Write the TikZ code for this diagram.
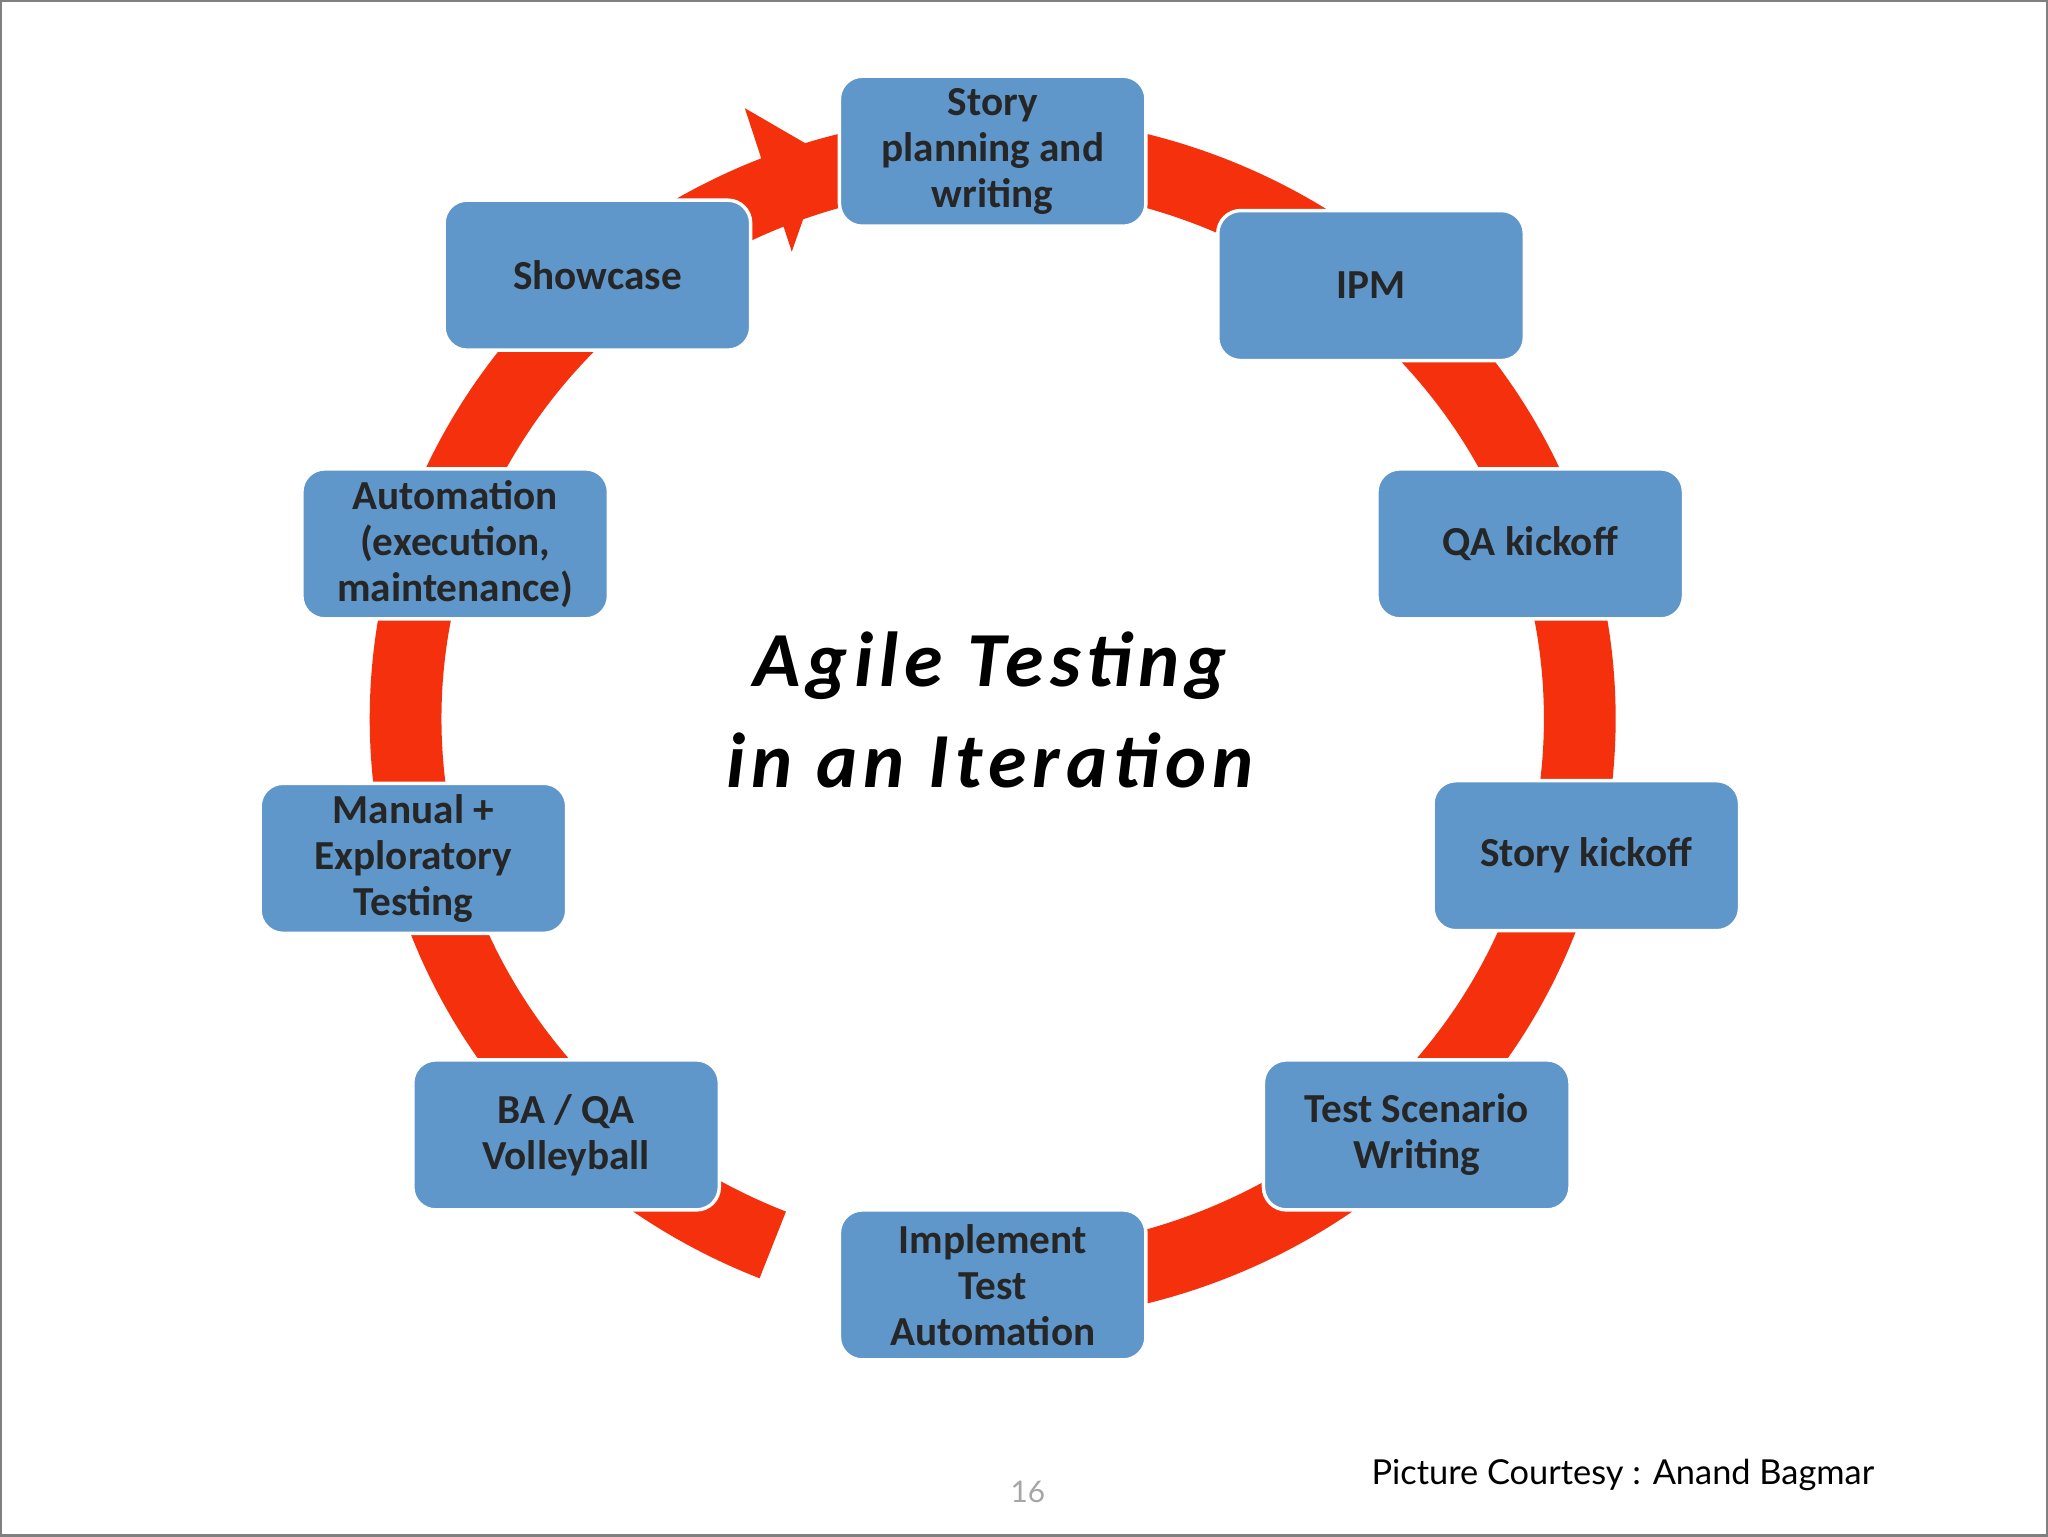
\documentclass[tikz,border=0pt]{standalone}
\usepackage{fontspec}
\setmainfont{Carlito}
\newfontfamily\foot{Lato}
\definecolor{boxblue}{HTML}{5F97CB}
\definecolor{ringred}{HTML}{F5300C}
\begin{document}
\begin{tikzpicture}[x=0.02cm,y=-0.02cm,
  box/.style={draw=white,line width=1.5pt,fill=boxblue,rounded corners=10pt,minimum width=4.7cm,minimum height=2.3cm,align=center,font=\bfseries\fontsize{18}{20}\selectfont,text=black!85}]
\draw[gray,line width=1pt,fill=white] (0,0) rectangle (1568,1176);
\draw[ringred,line width=1.1cm] (760,550) ++(90:450 and 435) arc[start angle=90,end angle=-248,x radius=450,y radius=435];
\fill[ringred] (570,82) -- (632,118) -- (606,192) -- cycle;
\node[box] (s) at (760,115) {Story\\planning and\\writing};
\node[box] (ipm) at (1050,218) {IPM};
\node[box] (qa) at (1172,416) {QA kickoff};
\node[box] (sk) at (1215,655) {Story kickoff};
\node[box] (ts) at (1085,869) {Test Scenario\\Writing};
\node[box] (it) at (760,984) {Implement\\Test\\Automation};
\node[box] (ba) at (433,869) {BA / QA\\Volleyball};
\node[box] (mt) at (316,657) {Manual +\\Exploratory\\Testing};
\node[box] (au) at (348,416) {Automation\\(execution,\\maintenance)};
\node[box] (sh) at (457,210) {Showcase};
\node[font=\bfseries\itshape\fontsize{34}{44}\selectfont,align=center] (t) at (758,543) {\addfontfeature{LetterSpace=8}Agile Testing\\\addfontfeature{LetterSpace=8}in an Iteration};
\node[font=\foot\fontsize{15}{18}\selectfont] (c) at (1243,1130) {Picture Courtesy : Anand Bagmar};
\node[font=\foot\fontsize{13}{16}\selectfont,text=gray!70] (n) at (787,1143) {16};
\end{tikzpicture}
\end{document}
